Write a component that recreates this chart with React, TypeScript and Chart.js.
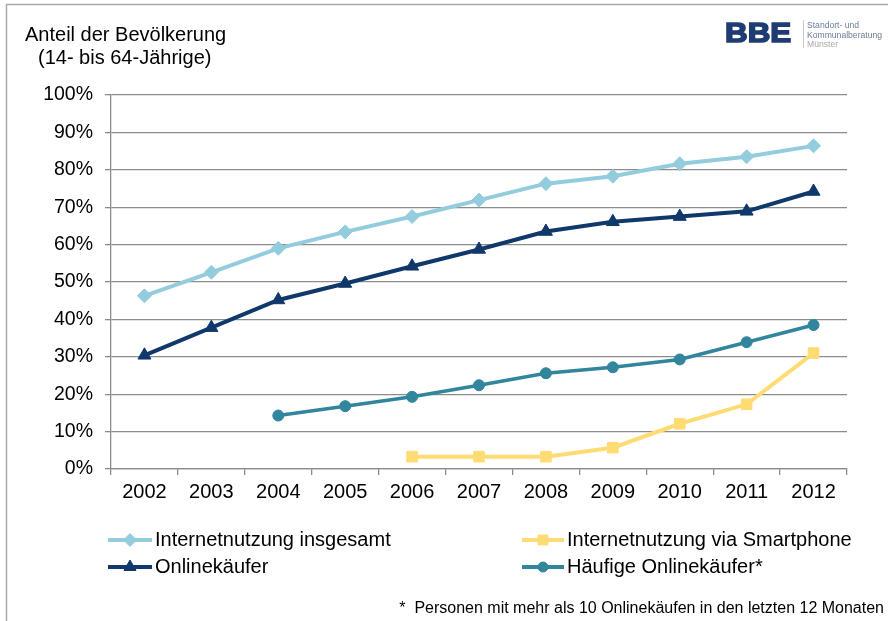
import React, { useEffect, useRef } from "react";
import { Chart, registerables } from "chart.js";
import { drawPoint } from "chart.js/helpers";

Chart.register(...registerables);

const years = ["2002", "2003", "2004", "2005", "2006", "2007", "2008", "2009", "2010", "2011", "2012"];
const internetGesamt = [46.3, 52.6, 59.0, 63.4, 67.5, 71.9, 76.3, 78.3, 81.6, 83.5, 86.4];
const onlinekaeufer = [30.4, 37.8, 45.2, 49.6, 54.2, 58.7, 63.5, 66.1, 67.5, 68.9, 74.2];
const haeufige = [null, null, 14.3, 16.8, 19.3, 22.4, 25.6, 27.2, 29.3, 33.9, 38.5];
const smartphone = [null, null, null, null, 3.3, 3.3, 3.3, 5.7, 12.1, 17.3, 31.0];
const yTicks = [0, 10, 20, 30, 40, 50, 60, 70, 80, 90, 100];

const seriesNames = [
  "Internetnutzung insgesamt",
  "Onlinekäufer",
  "Internetnutzung via Smartphone",
  "Häufige Onlinekäufer*",
];
const titleLines = ["Anteil der Bevölkerung", "(14- bis 64-Jährige)"];
const footnote = "*  Personen mit mehr als 10 Onlinekäufen in den letzten 12 Monaten";
const logoLines = ["Standort- und", "Kommunalberatung", "Münster"];

const COLORS = {
  light: "#93CDDD",
  navy: "#10386B",
  teal: "#31859C",
  yellow: "#FFDC73",
};

const FONT = "'Liberation Sans', Arial, sans-serif";

const decorPlugin = {
  id: "decor",
  afterDraw(chart: any) {
    const ctx = chart.ctx as CanvasRenderingContext2D;
    ctx.save();
    // frame
    ctx.strokeStyle = "#a8a8a8";
    ctx.lineWidth = 1.5;
    ctx.beginPath();
    ctx.moveTo(6.5, 621);
    ctx.lineTo(6.5, 4.5);
    ctx.lineTo(888, 4.5);
    ctx.stroke();

    // title
    ctx.fillStyle = "#000";
    ctx.font = `20px ${FONT}`;
    ctx.textBaseline = "middle";
    ctx.textAlign = "left";
    ctx.fillText(titleLines[0], 25, 35);
    ctx.fillText(titleLines[1], 38, 58);

    // logo
    ctx.save();
    ctx.translate(725, 33);
    ctx.scale(1.12, 1);
    ctx.font = `900 28px ${FONT}`;
    ctx.fillStyle = "#1E3C72";
    ctx.strokeStyle = "#1E3C72";
    ctx.lineWidth = 1.6;
    ctx.textBaseline = "middle";
    ctx.fillText("BBE", 0, 1);
    ctx.strokeText("BBE", 0, 1);
    ctx.restore();
    ctx.strokeStyle = "#c8c8c8";
    ctx.lineWidth = 1;
    ctx.beginPath();
    ctx.moveTo(803.5, 20);
    ctx.lineTo(803.5, 48);
    ctx.stroke();
    ctx.font = `8.6px ${FONT}`;
    ctx.fillStyle = "#6C7D99";
    ctx.fillText(logoLines[0], 807, 26);
    ctx.fillText(logoLines[1], 807, 35.5);
    ctx.fillStyle = "#A8A8A8";
    ctx.fillText(logoLines[2], 807, 45);

    // legend
    const items = [
      { name: seriesNames[0], color: COLORS.light, style: "rectRot", r: 6.5, x1: 108, x2: 152, y: 540 },
      { name: seriesNames[1], color: COLORS.navy, style: "triangle", r: 7, x1: 108, x2: 152, y: 567 },
      { name: seriesNames[2], color: COLORS.yellow, style: "rect", r: 7, x1: 522, x2: 564, y: 540 },
      { name: seriesNames[3], color: COLORS.teal, style: "circle", r: 5, x1: 522, x2: 564, y: 567 },
    ];
    ctx.font = `20px ${FONT}`;
    for (const it of items) {
      ctx.strokeStyle = it.color;
      ctx.lineWidth = 4;
      ctx.beginPath();
      ctx.moveTo(it.x1, it.y);
      ctx.lineTo(it.x2, it.y);
      ctx.stroke();
      ctx.fillStyle = it.color;
      ctx.strokeStyle = it.color;
      ctx.lineWidth = 1;
      drawPoint(ctx, { pointStyle: it.style, radius: it.r, rotation: 0, borderWidth: 1 } as any, (it.x1 + it.x2) / 2, it.y);
      ctx.fillStyle = "#000";
      ctx.textAlign = "left";
      ctx.fillText(it.name, it.x2 + 3, it.y);
    }

    // footnote
    ctx.font = `16px ${FONT}`;
    ctx.textAlign = "right";
    ctx.fillStyle = "#000";
    ctx.fillText(footnote, 884, 609);
    ctx.restore();
  },
};

function ds(label: string, data: (number | null)[], color: string, style: string, r: number, w: number) {
  return {
    label,
    data,
    borderColor: color,
    backgroundColor: color,
    pointBackgroundColor: color,
    pointBorderColor: color,
    pointStyle: style,
    pointRadius: r,
    pointHoverRadius: r,
    pointBorderWidth: 1,
    borderWidth: w,
    tension: 0,
    spanGaps: false,
  };
}

export default function App() {
  const ref = useRef<HTMLCanvasElement | null>(null);
  useEffect(() => {
    if (!ref.current) return;
    const chart = new Chart(ref.current, {
      type: "line",
      data: {
        labels: years,
        datasets: [
          ds(seriesNames[2], smartphone, COLORS.yellow, "rect", 7.5, 4),
          ds(seriesNames[3], haeufige, COLORS.teal, "circle", 5.5, 3.5),
          ds(seriesNames[1], onlinekaeufer, COLORS.navy, "triangle", 7.5, 4),
          ds(seriesNames[0], internetGesamt, COLORS.light, "rectRot", 7, 4),
        ] as any,
      },
      options: {
        responsive: false,
        animation: false,
        layout: { padding: { left: 0, top: 95, right: 41, bottom: 0 } },
        plugins: { legend: { display: false }, tooltip: { enabled: false }, title: { display: false } },
        scales: {
          x: {
            type: "category",
            offset: true,
            grid: { drawOnChartArea: false, drawTicks: true, tickLength: 6, offset: true, color: "#8c8c8c", lineWidth: 1.3 },
            border: { color: "#8c8c8c", width: 1.3 },
            ticks: { color: "#000", font: { family: FONT, size: 20 }, padding: 5, maxRotation: 0, autoSkip: false },
            afterFit(scale: any) {
              scale.height = 152;
            },
          },
          y: {
            min: 0,
            max: 100,
            afterBuildTicks(scale: any) {
              scale.ticks = yTicks.map((v) => ({ value: v }));
            },
            grid: { color: "#8c8c8c", lineWidth: 1.3, tickLength: 6 },
            border: { color: "#8c8c8c", width: 1.3 },
            ticks: {
              color: "#000",
              font: { family: FONT, size: 19.5 },
              padding: 12,
              callback: (v: any) => `${v}%`,
            },
            afterFit(scale: any) {
              scale.width = 111;
            },
          },
        },
      },
      plugins: [decorPlugin],
    });
    return () => chart.destroy();
  }, []);
  return (
    <div style={{ position: "fixed", left: 0, top: 0, width: 888, height: 621, background: "#fff" }}>
      <canvas ref={ref} width={888} height={621} style={{ width: 888, height: 621, display: "block" }} />
    </div>
  );
}
